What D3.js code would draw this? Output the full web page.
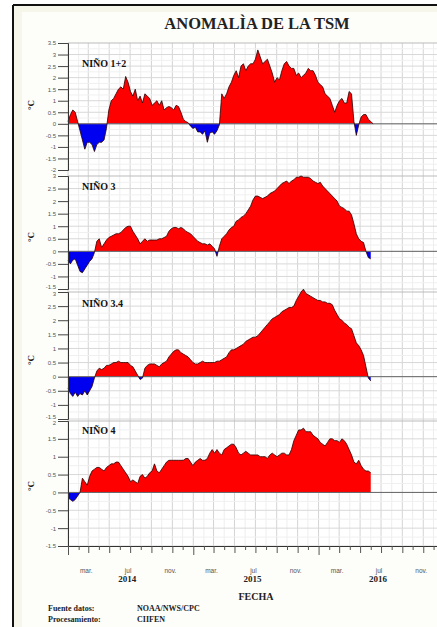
<!DOCTYPE html>
<html>
<head>
<meta charset="utf-8">
<script src="https://cdn.jsdelivr.net/npm/d3@7"></script>
<style>
  body { margin: 0; background: #fff; }
  svg { display: block; }
</style>
</head>
<body>
<div id="chart"></div>
<script>
// weekly SST anomalies (°C), first week centred on 2014-01-01
var startDate = "2014-01-01";

var nino12 = [0.1,0.4,0.6,0.5,0.1,-0.3,-0.7,-1.1,-0.8,-0.8,-0.9,-1.2,-0.9,-0.8,-0.8,-0.7,
  -0.2,0.6,1.0,1.1,1.3,1.5,1.6,1.5,2.05,1.8,1.4,1.2,1.5,1.0,1.2,0.9,
  1.3,1.2,1.1,0.8,0.9,1.0,0.8,1.0,0.6,0.7,0.75,0.7,0.6,0.8,0.75,0.5,
  0.2,0.1,0.05,-0.1,-0.2,-0.15,-0.35,-0.35,-0.45,-0.3,-0.8,-0.4,-0.35,-0.45,-0.3,-0.05,
  1.3,1.1,1.3,1.6,1.8,2.1,2.3,2.0,2.5,2.6,2.3,2.5,2.6,2.6,2.8,3.2,
  2.9,2.6,2.7,2.8,2.5,2.2,1.8,2.0,1.9,2.3,2.6,2.7,2.5,2.4,2.4,2.1,
  2.2,2.0,2.1,2.2,2.4,2.3,2.3,2.1,1.8,1.7,1.6,1.3,1.2,1.1,0.8,0.5,
  0.8,1.0,1.1,0.9,0.9,1.4,1.3,0.1,-0.5,-0.05,0.3,0.4,0.4,0.2,0.1,0.0];

var nino3 = [-0.35,-0.5,-0.35,-0.3,-0.55,-0.8,-0.85,-0.7,-0.55,-0.4,-0.3,-0.05,0.4,0.5,0.15,0.3,
  0.45,0.55,0.6,0.65,0.7,0.7,0.75,0.85,0.95,1.0,1.0,0.8,0.65,0.5,0.3,0.4,
  0.5,0.4,0.45,0.45,0.45,0.45,0.5,0.5,0.55,0.6,0.8,0.9,0.95,0.95,0.9,0.95,
  0.9,0.8,0.75,0.7,0.6,0.5,0.4,0.35,0.3,0.3,0.25,0.3,0.2,0.1,-0.2,0.2,
  0.5,0.6,0.7,0.85,0.95,1.0,1.2,1.25,1.35,1.4,1.5,1.65,1.8,2.05,2.2,2.2,
  2.15,2.1,2.15,2.2,2.3,2.35,2.4,2.5,2.6,2.7,2.75,2.8,2.7,2.8,2.85,2.95,
  2.95,3.0,2.95,2.95,2.95,2.9,2.8,2.75,2.7,2.75,2.6,2.5,2.4,2.3,2.2,2.1,
  2.0,1.8,1.75,1.7,1.6,1.6,1.45,1.1,0.7,0.5,0.4,0.35,0.0,-0.25,-0.3];

var nino34 = [-0.4,-0.6,-0.7,-0.55,-0.7,-0.6,-0.65,-0.5,-0.65,-0.5,-0.35,-0.05,0.2,0.3,0.25,0.3,
  0.4,0.4,0.45,0.5,0.5,0.55,0.5,0.5,0.5,0.5,0.4,0.35,0.2,0.05,-0.1,-0.05,
  0.3,0.4,0.45,0.45,0.45,0.4,0.35,0.45,0.5,0.55,0.7,0.8,0.9,0.95,0.95,0.85,
  0.8,0.75,0.7,0.6,0.5,0.45,0.45,0.5,0.55,0.5,0.5,0.5,0.5,0.5,0.55,0.55,
  0.6,0.65,0.7,0.85,0.95,0.95,1.0,1.05,1.1,1.15,1.25,1.3,1.35,1.4,1.4,1.45,
  1.55,1.65,1.75,1.85,1.95,2.05,2.1,2.15,2.2,2.3,2.35,2.4,2.45,2.45,2.5,2.7,
  2.85,3.0,3.1,2.95,2.9,2.85,2.8,2.75,2.7,2.7,2.65,2.65,2.6,2.6,2.55,2.35,
  2.2,2.05,2.0,1.9,1.85,1.75,1.7,1.45,1.2,1.1,0.95,0.75,0.35,-0.05,-0.15];

var nino4 = [-0.15,-0.2,-0.25,-0.2,-0.1,0.0,0.4,0.3,0.2,0.45,0.6,0.65,0.7,0.7,0.65,0.6,
  0.7,0.75,0.8,0.8,0.85,0.85,0.75,0.65,0.55,0.45,0.3,0.35,0.3,0.25,0.45,0.5,
  0.4,0.45,0.55,0.6,0.8,0.6,0.55,0.65,0.75,0.85,0.9,0.9,0.9,0.9,0.9,0.9,
  0.9,0.95,0.95,0.85,0.75,0.85,0.9,0.95,0.9,0.9,0.95,1.1,1.2,1.1,1.2,1.1,
  1.05,1.2,1.25,1.3,1.35,1.35,1.25,1.1,1.05,1.1,1.15,1.1,1.05,1.05,1.05,1.05,
  1.0,1.0,1.0,0.95,1.05,1.1,1.05,1.0,1.05,1.1,1.1,1.05,1.05,1.2,1.45,1.6,
  1.75,1.75,1.8,1.7,1.7,1.7,1.6,1.55,1.5,1.4,1.35,1.3,1.4,1.5,1.5,1.45,
  1.45,1.4,1.5,1.45,1.35,1.2,1.05,0.85,0.8,0.9,0.75,0.65,0.6,0.6,0.55];

var panelNames = ["NIÑO 1+2", "NIÑO 3", "NIÑO 3.4", "NIÑO 4"];
var panelSeries = [nino12, nino3, nino34, nino4];
var panelDomains = [[-2, 3.5], [-1.5, 3], [-1.5, 3], [-1.5, 2]];
var monthLabels = ["mar.", "jul", "nov."];
var yearLabels = ["2014", "2015", "2016"];

var W = 437, H = 627;
var x0 = 68;
var serif = "'Liberation Serif', 'Times New Roman', serif";

// pixel bands of the four stacked panels
var bands = [[43, 170], [176, 289], [292, 419], [421, 546]];
var labelY = [67, 190, 307, 434];
var unitY = [105, 237, 360, 486];

var svg = d3.select("#chart").append("svg")
  .attr("width", W)
  .attr("height", H);

// frame
svg.append("rect").attr("x", 13).attr("y", 5).attr("width", W).attr("height", H)
  .style("fill", "#f6f6ea");
svg.append("rect").attr("x", 22).attr("y", 12).attr("width", W).attr("height", H)
  .style("fill", "#fdfdf9");
svg.append("line").attr("x1", 13).attr("x2", 13).attr("y1", 5).attr("y2", H)
  .style("stroke", "#111").style("stroke-width", 2);
svg.append("line").attr("x1", 13).attr("x2", W).attr("y1", 5).attr("y2", 5)
  .style("stroke", "#111").style("stroke-width", 2);

var t0 = d3.timeParse("%Y-%m-%d")(startDate);
var x = d3.scaleTime()
  .domain([t0, new Date(2017, 0, 1)])
  .range([x0, x0 + 36 * 10.45]);

function weekDate(i) { return d3.timeDay.offset(t0, 7 * i); }

// plot background
svg.append("rect").attr("x", x0).attr("y", bands[0][0])
  .attr("width", W - x0).attr("height", bands[3][1] - bands[0][0])
  .style("fill", "#fff");

// vertical grid
var months = d3.timeMonth.range(new Date(2014, 0, 1), new Date(2017, 0, 1));
svg.append("g").selectAll("line")
  .data(months)
  .enter().append("line")
  .attr("x1", function(d) { return x(d); })
  .attr("x2", function(d) { return x(d); })
  .attr("y1", bands[0][0])
  .attr("y2", bands[3][1])
  .style("stroke", function(d) { return d.getMonth() % 2 === 0 ? "#d4d4d4" : "#eeeeee"; })
  .style("stroke-width", 1);

panelSeries.forEach(function(values, p) {
  var dom = panelDomains[p];
  var y = d3.scaleLinear().domain(dom).range([bands[p][1], bands[p][0]]);
  var g = svg.append("g");

  var ticks = d3.range(dom[0], dom[1] + 0.01, 0.5);
  var minor = d3.range(dom[0] + 0.25, dom[1], 0.5);

  g.selectAll(".minor").data(minor).enter().append("line")
    .attr("x1", x0).attr("x2", W)
    .attr("y1", function(d) { return y(d); })
    .attr("y2", function(d) { return y(d); })
    .style("stroke", "#f0f0f0");

  g.selectAll(".grid").data(ticks).enter().append("line")
    .attr("x1", x0).attr("x2", W)
    .attr("y1", function(d) { return y(d); })
    .attr("y2", function(d) { return y(d); })
    .style("stroke", function(d) { return d === dom[1] ? "#bbb" : "#d8d8d8"; });

  var clipUp = "up" + p, clipDn = "dn" + p;
  svg.append("clipPath").attr("id", clipUp).append("rect")
    .attr("x", x0).attr("y", bands[p][0] - 5).attr("width", W).attr("height", y(0) - bands[p][0] + 5);
  svg.append("clipPath").attr("id", clipDn).append("rect")
    .attr("x", x0).attr("y", y(0)).attr("width", W).attr("height", bands[p][1] - y(0) + 5);

  var area = d3.area()
    .x(function(d, i) { return x(weekDate(i)); })
    .y0(y(0))
    .y1(function(d) { return y(d); });

  var line = d3.line()
    .x(function(d, i) { return x(weekDate(i)); })
    .y(function(d) { return y(d); });

  g.append("path").datum(values)
    .attr("d", area)
    .attr("clip-path", "url(#" + clipUp + ")")
    .style("fill", "#ff0000");

  g.append("path").datum(values)
    .attr("d", area)
    .attr("clip-path", "url(#" + clipDn + ")")
    .style("fill", "#0000f0");

  g.append("line")
    .attr("x1", x0).attr("x2", W)
    .attr("y1", y(0)).attr("y2", y(0))
    .style("stroke", "#666").style("stroke-width", 1);

  g.append("path").datum(values)
    .attr("d", line)
    .style("fill", "none")
    .style("stroke", "#2a0000")
    .style("stroke-width", 0.8);

  // y axis
  var axis = d3.axisLeft(y)
    .tickValues(ticks)
    .tickSize(10)
    .tickFormat(function(d) { return String(d); });
  var ag = svg.append("g")
    .attr("transform", "translate(" + x0 + ",0)")
    .call(axis);
  ag.select(".domain").style("stroke", "#333");
  ag.selectAll(".tick line").style("stroke", "#444");
  // nudge the end labels where two panels meet, so they do not sit on each other
  ag.selectAll("text")
    .style("font-family", "'Liberation Sans', Arial, sans-serif")
    .style("font-size", "6px")
    .style("fill", "#555")
    .attr("x", -12)
    .attr("dy", function(d) {
      if (p > 1 && d === dom[1]) return "0.62em";
      if (p > 0 && p < 3 && d === dom[0]) return "-0.05em";
      return "0.32em";
    });

  svg.append("text")
    .attr("x", 82)
    .attr("y", labelY[p])
    .style("font-family", serif)
    .style("font-weight", "bold")
    .style("font-size", "10px")
    .style("fill", "#111")
    .text(panelNames[p]);

  svg.append("text")
    .attr("transform", "translate(34," + unitY[p] + ") rotate(-90)")
    .style("font-family", serif)
    .style("font-weight", "bold")
    .style("font-size", "9px")
    .style("text-anchor", "middle")
    .style("fill", "#111")
    .text("°C");
});

// x axis
var xg = svg.append("g")
  .attr("transform", "translate(0," + bands[3][1] + ")")
  .call(d3.axisBottom(x).ticks(d3.timeMonth.every(1)).tickSize(6).tickFormat(""));
xg.select(".domain").style("stroke", "#333");
xg.selectAll(".tick line")
  .style("stroke", "#555")
  .attr("y2", function(d) { return d.getMonth() === 0 ? 9 : (d.getMonth() % 2 === 0 ? 7 : 4); });

var labelMonths = months.filter(function(d) { return d.getMonth() % 4 === 2; });
svg.append("g").selectAll("text")
  .data(labelMonths)
  .enter().append("text")
  .attr("x", function(d) { return x(d) - 2; })
  .attr("y", 573)
  .style("font-family", "'Liberation Sans', Arial, sans-serif")
  .style("font-size", "6.5px")
  .style("text-anchor", "middle")
  .style("fill", "#555")
  .text(function(d) { return monthLabels[(d.getMonth() - 2) / 4]; });

svg.append("g").selectAll("text")
  .data(yearLabels)
  .enter().append("text")
  .attr("x", function(d) { return x(new Date(+d, 6, 1)) - 3; })
  .attr("y", 582)
  .style("font-family", serif)
  .style("font-weight", "bold")
  .style("font-size", "9px")
  .style("text-anchor", "middle")
  .style("fill", "#222")
  .text(function(d) { return d; });

svg.append("text")
  .attr("x", 256).attr("y", 600)
  .style("font-family", serif)
  .style("font-weight", "bold")
  .style("font-size", "10px")
  .style("text-anchor", "middle")
  .style("fill", "#222")
  .text("FECHA");

svg.append("text")
  .attr("x", 257).attr("y", 29)
  .style("font-family", serif)
  .style("font-weight", "bold")
  .style("font-size", "16.5px")
  .style("text-anchor", "middle")
  .style("fill", "#222")
  .text("ANOMALÌA DE LA TSM");

var notes = [["Fuente datos:", "NOAA/NWS/CPC", 611], ["Procesamiento:", "CIIFEN", 622]];
notes.forEach(function(n) {
  svg.append("text").attr("x", 48).attr("y", n[2])
    .style("font-family", serif).style("font-weight", "bold")
    .style("font-size", "8px").style("fill", "#222")
    .text(n[0]);
  svg.append("text").attr("x", 137).attr("y", n[2])
    .style("font-family", serif).style("font-weight", "bold")
    .style("font-size", "8px").style("fill", "#222")
    .text(n[1]);
});
</script>
</body>
</html>
